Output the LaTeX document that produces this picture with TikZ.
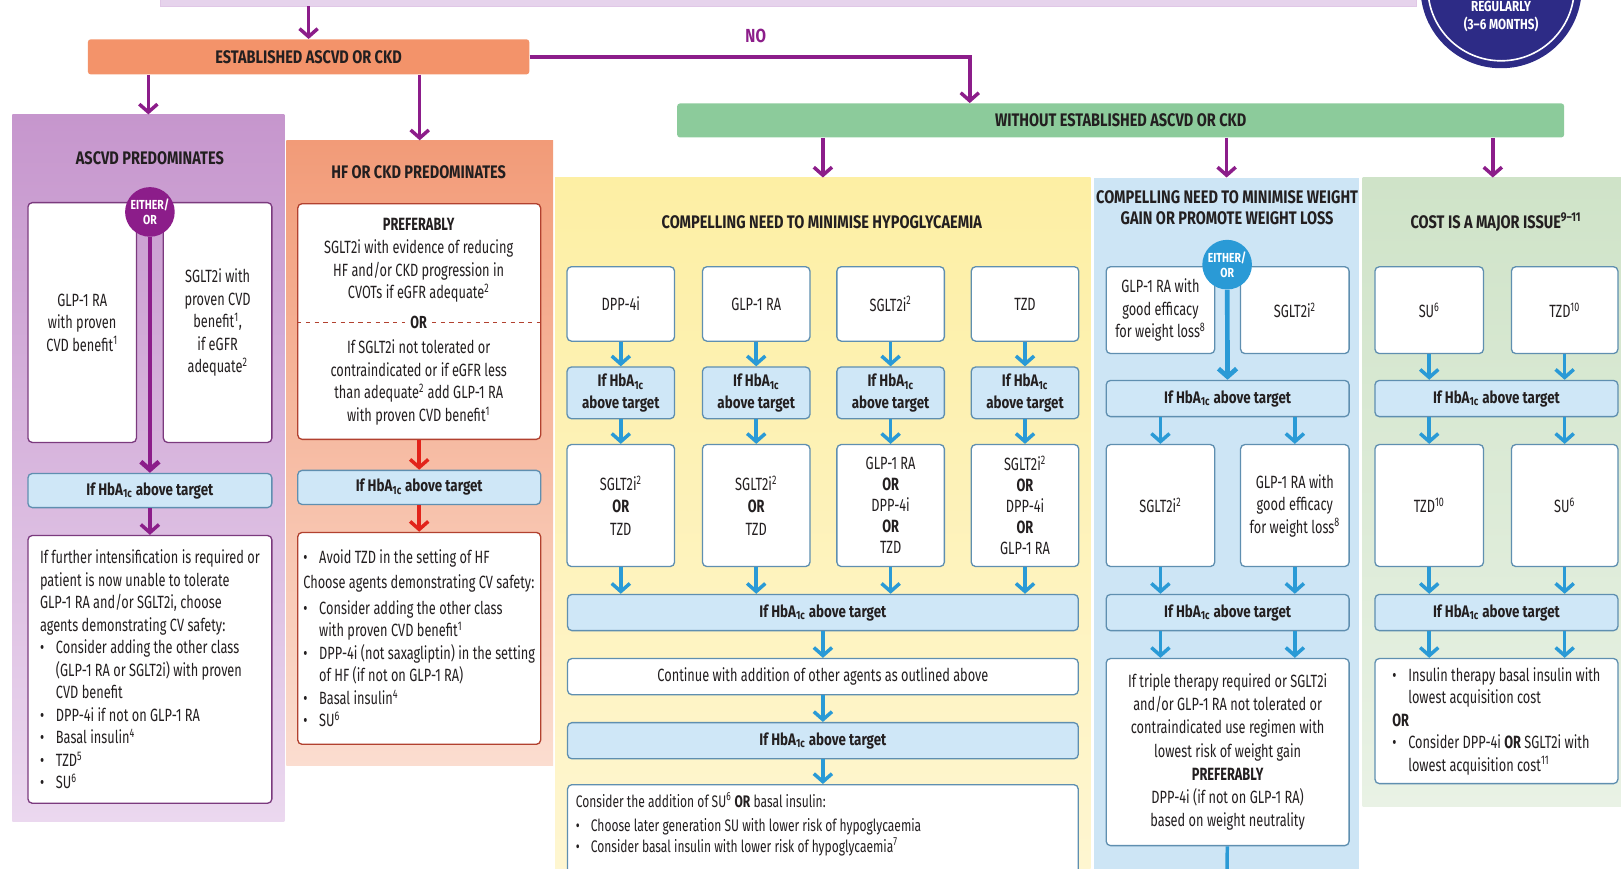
\documentclass[tikz,border=0pt]{standalone}
\usepackage{fontspec}
\setmainfont{Fira Sans}[FakeStretch=0.72]
\newfontfamily\headfont{Fira Sans}[FakeStretch=0.8]
\usetikzlibrary{arrows.meta,positioning,fit,calc}

\definecolor{arrowpurple}{HTML}{8C1D8A}
\definecolor{arrowblue}{HTML}{2A9AD6}
\definecolor{arrowred}{HTML}{E2231A}
\definecolor{barorange}{HTML}{F3936A}
\definecolor{bargreen}{HTML}{8CCB9B}
\definecolor{barlilac}{HTML}{E6D3EC}
\definecolor{ascvdtop}{HTML}{C696CD}
\definecolor{ascvdbot}{HTML}{EBD8EF}
\definecolor{hfpanetop}{HTML}{F29B78}
\definecolor{hfpanebot}{HTML}{FBDDD0}
\definecolor{hypotop}{HTML}{FDEFA4}
\definecolor{hypobot}{HTML}{FEF6D2}
\definecolor{weightblue}{HTML}{CDE5F5}
\definecolor{costtop}{HTML}{CFE3C8}
\definecolor{costbot}{HTML}{E9F2E5}
\definecolor{hbafill}{HTML}{CFE7F7}
\definecolor{boxedge}{HTML}{5F8FB0}
\definecolor{purpleedge}{HTML}{7B3A7E}
\definecolor{rededge}{HTML}{B2412F}
\definecolor{reviewnavy}{HTML}{2D2B86}
\definecolor{textdark}{HTML}{231F20}

\newcommand{\hba}{HbA\textsubscript{1c}}
\newcommand{\refmark}[1]{\textsuperscript{#1}}
\newcommand{\blt}{\makebox[0.9em][l]{\textbullet}}
\newcommand{\hng}{\hspace*{0.9em}}

\begin{document}
\begin{tikzpicture}[
  x=0.025cm, y=-0.025cm,
  font=\fontsize{12.2}{15.5}\selectfont, text=textdark,
  flow/.style={-{Straight Barb[length=5.5pt,width=12.5pt]}, line width=2.4pt},
  pflow/.style={flow, draw=arrowpurple},
  bflow/.style={flow, draw=arrowblue},
  rflow/.style={flow, draw=arrowred},
  panel/.style={inner sep=0pt, draw=none},
  boxsize/.style 2 args={minimum width=#1*0.025cm, minimum height=#2*0.025cm},
  heading/.style={font=\headfont\fontsize{12.5}{15}\selectfont\bfseries, align=center},
  whitebox/.style={draw=#1, fill=white, rounded corners=3pt, line width=0.9pt, inner sep=0pt, align=center},
  whitebox/.default=boxedge,
  hbabox/.style={draw=boxedge, fill=hbafill, rounded corners=3pt, line width=0.9pt, inner sep=0pt, align=center, font=\headfont\fontsize{11.5}{15}\selectfont\bfseries},
  eitheror/.style={circle, fill=#1, text=white, inner sep=0pt, minimum size=1.2cm, align=center, font=\headfont\fontsize{9}{10.5}\selectfont\bfseries}
]
\useasboundingbox (0,0) rectangle (1568,840);
\clip (0,0) rectangle (1568,840);

% panels
\node [panel, fit={(12,111) (275,795)}, top color=ascvdtop, bottom color=ascvdbot] (ascvd) {};
\node [panel, fit={(277,136) (535,740)}, top color=hfpanetop, bottom color=hfpanebot] (hf) {};
\node [panel, fit={(537,172) (1055,860)}, top color=hypotop, bottom color=hypobot] (hypo) {};
\node [panel, fit={(1058,172) (1315,860)}, fill=weightblue] (weight) {};
\node [panel, fit={(1318,172) (1570,780)}, top color=costtop, bottom color=costbot] (cost) {};

% top of the chart
\node [panel, fit={(155,-30) (1370,6)}, fill=barlilac, draw=barlilac!80!ascvdtop] (topbar) {};
\node [circle, fill=reviewnavy, minimum size=3.9cm, inner sep=0pt] (review) at (1452,-12) {};
\draw [white, line width=1.1pt] (review.center) circle [radius=1.77cm];
\node [text=white, align=center, font=\headfont\fontsize{10}{12.5}\selectfont\bfseries] (reviewtext) at (1452,16) {REGULARLY\\(3–6 MONTHS)};

\node [heading, boxsize={427}{34}, fill=barorange, rounded corners=2pt, inner sep=0pt] (estab) at (298.5,55) {ESTABLISHED ASCVD OR CKD};
\node [heading, boxsize={858}{33}, fill=bargreen, rounded corners=2pt, inner sep=0pt] (without) at (1084,116.5) {WITHOUT ESTABLISHED ASCVD OR CKD};
\node [text=arrowpurple, font=\headfont\fontsize{13}{15}\selectfont\bfseries] (nolabel) at (731,35) {NO};

% titles
\node [heading] (ascvdtitle) at (145,153) {ASCVD PREDOMINATES};
\node [heading] (hftitle) at (405,167) {HF OR CKD PREDOMINATES};
\node [heading] (hypotitle) at (795,215) {COMPELLING NEED TO MINIMISE HYPOGLYCAEMIA};
\node [heading] (weighttitle) at (1187,201) {COMPELLING NEED TO MINIMISE WEIGHT\\GAIN OR PROMOTE WEIGHT LOSS};
\node [heading] (costtitle) at (1447,215) {COST IS A MAJOR ISSUE\refmark{9–11}};

% ASCVD predominates
\node [whitebox=purpleedge, boxsize={105}{232}] (ascvdglp) at (79.5,312) {GLP-1 RA\\with proven\\CVD benefit\refmark{1}};
\node [whitebox=purpleedge, boxsize={105}{232}] (ascvdsglt) at (210.5,312) {SGLT2i with\\proven CVD\\benefit\refmark{1},\\if eGFR\\adequate\refmark{2}};
\node [eitheror=arrowpurple] (either1) at (145,205) {EITHER/\\OR};
\node [hbabox, boxsize={236}{33}] (ascvdhba) at (145,474.5) {If \hba{} above target};
\node [whitebox=purpleedge, boxsize={236}{259}, align=left] (ascvdnext) at (145,647.5) {If further intensification is required or\\
patient is now unable to tolerate\\
GLP-1 RA and/or SGLT2i, choose\\
agents demonstrating CV safety:\\
\blt Consider adding the other class\\
\hng (GLP-1 RA or SGLT2i) with proven\\
\hng CVD benefit\\
\blt DPP-4i if not on GLP-1 RA\\
\blt Basal insulin\refmark{4}\\
\blt TZD\refmark{5}\\
\blt SU\refmark{6}};

% HF or CKD predominates
\node [whitebox=rededge, boxsize={235}{228}] (hfpref) at (405.5,311) {};
\node [align=center] (hfsglt) at (405,252) {\textbf{PREFERABLY}\\SGLT2i with evidence of reducing\\HF and/or CKD progression in\\CVOTs if eGFR adequate\refmark{2}};
\node [font=\fontsize{12}{13}\selectfont\bfseries] (hfor) at (405,312) {OR};
\node [align=center] (hfglp) at (405,370) {If SGLT2i not tolerated or\\contraindicated or if eGFR less\\than adequate\refmark{2} add GLP-1 RA\\with proven CVD benefit\refmark{1}};
\node [hbabox, boxsize={235}{33}] (hfhba) at (405.5,471.5) {If \hba{} above target};
\node [whitebox=rededge, boxsize={235}{205}, align=left] (hfnext) at (405.5,617.5) {\blt Avoid TZD in the setting of HF\\[2pt]
Choose agents demonstrating CV safety:\\[2pt]
\blt Consider adding the other class\\
\hng with proven CVD benefit\refmark{1}\\
\blt DPP-4i (not saxagliptin) in the setting\\
\hng of HF (if not on GLP-1 RA)\\
\blt Basal insulin\refmark{4}\\
\blt SU\refmark{6}};

% minimise hypoglycaemia
\node [whitebox, boxsize={104}{72}] (hypodpp) at (600.5,294) {DPP-4i};
\node [whitebox, boxsize={104}{72}] (hypoglp) at (731.5,294) {GLP-1 RA};
\node [whitebox, boxsize={104}{72}] (hyposglt) at (861.5,294) {SGLT2i\refmark{2}};
\node [whitebox, boxsize={104}{72}] (hypotzd) at (991.5,294) {TZD};
\node [hbabox, boxsize={104}{50}] (hypohba1) at (600.5,380) {If \hba\\above target};
\node [hbabox, boxsize={104}{50}] (hypohba2) at (731.5,380) {If \hba\\above target};
\node [hbabox, boxsize={104}{50}] (hypohba3) at (861.5,380) {If \hba\\above target};
\node [hbabox, boxsize={104}{50}] (hypohba4) at (991.5,380) {If \hba\\above target};
\node [whitebox, boxsize={104}{118}] (hypoadd1) at (600.5,489) {SGLT2i\refmark{2}\\\textbf{OR}\\TZD};
\node [whitebox, boxsize={104}{118}] (hypoadd2) at (731.5,489) {SGLT2i\refmark{2}\\\textbf{OR}\\TZD};
\node [whitebox, boxsize={104}{118}, font=\fontsize{12.2}{14.5}\selectfont] (hypoadd3) at (861.5,489) {GLP-1 RA\\\textbf{OR}\\DPP-4i\\\textbf{OR}\\TZD};
\node [whitebox, boxsize={104}{118}, font=\fontsize{12.2}{14.5}\selectfont] (hypoadd4) at (991.5,489) {SGLT2i\refmark{2}\\\textbf{OR}\\DPP-4i\\\textbf{OR}\\GLP-1 RA};
\node [hbabox, boxsize={494}{35}] (hypohba5) at (796,592.5) {If \hba{} above target};
\node [whitebox, boxsize={494}{35}] (hypocont) at (796,654.5) {Continue with addition of other agents as outlined above};
\node [hbabox, boxsize={494}{35}] (hypohba6) at (796,716.5) {If \hba{} above target};
\node [whitebox, boxsize={494}{121}] (hypofinal) at (796,819.5) {};
\node [anchor=north west, align=left, font=\fontsize{11.5}{14}\selectfont] (hypofinaltext) at (552,762) {Consider the addition of SU\refmark{6} \textbf{OR} basal insulin:\\[3pt]
\blt Choose later generation SU with lower risk of hypoglycaemia\\
\blt Consider basal insulin with lower risk of hypoglycaemia\refmark{7}};

% minimise weight gain
\node [whitebox, boxsize={105}{84}] (weightglp) at (1122.5,300) {GLP-1 RA with\\good efficacy\\for weight loss\refmark{8}};
\node [whitebox, boxsize={105}{84}] (weightsglt) at (1252.5,300) {SGLT2i\refmark{2}};
\node [eitheror=arrowblue] (either2) at (1187,256) {EITHER/\\OR};
\node [hbabox, boxsize={235}{35}] (weighthba1) at (1187.5,385.5) {If \hba{} above target};
\node [whitebox, boxsize={105}{118}] (weightsglt2) at (1122.5,489) {SGLT2i\refmark{2}};
\node [whitebox, boxsize={105}{118}] (weightglp2) at (1252.5,489) {GLP-1 RA with\\good efficacy\\for weight loss\refmark{8}};
\node [hbabox, boxsize={235}{35}] (weighthba2) at (1187.5,592.5) {If \hba{} above target};
\node [whitebox, boxsize={235}{181}, font=\fontsize{12.2}{16}\selectfont] (weightfinal) at (1187.5,727.5) {If triple therapy required or SGLT2i\\and/or GLP-1 RA not tolerated or\\contraindicated use regimen with\\lowest risk of weight gain\\\textbf{PREFERABLY}\\DPP-4i (if not on GLP-1 RA)\\based on weight neutrality};
\coordinate (weightout) at (1187,852);

% cost is a major issue
\node [whitebox, boxsize={105}{84}] (costsu) at (1382.5,300) {SU\refmark{6}};
\node [whitebox, boxsize={103}{84}] (costtzd) at (1513.5,300) {TZD\refmark{10}};
\node [hbabox, boxsize={235}{35}] (costhba1) at (1447.5,385.5) {If \hba{} above target};
\node [whitebox, boxsize={105}{118}] (costtzd2) at (1382.5,489) {TZD\refmark{10}};
\node [whitebox, boxsize={103}{118}] (costsu2) at (1513.5,489) {SU\refmark{6}};
\node [hbabox, boxsize={235}{35}] (costhba2) at (1447.5,592.5) {If \hba{} above target};
\node [whitebox, boxsize={235}{121}, align=left] (costfinal) at (1447.5,697.5) {\blt Insulin therapy basal insulin with\\
\hng lowest acquisition cost\\
\textbf{OR}\\
\blt Consider DPP-4i \textbf{OR} SGLT2i with\\
\hng lowest acquisition cost\refmark{11}};

% connectors
\draw [pflow] (estab.north |- topbar.south) -- (estab.north);
\draw [pflow] (ascvd.north |- estab.south) -- (ascvd.north);
\draw [pflow] (hf.north |- estab.south) -- (hf.north);
\draw [pflow] (estab.east) -| ($(without.north west)!0.33!(without.north east)$);
\draw [pflow] (hypo.north |- without.south) -- (hypo.north);
\draw [pflow] (weight.north |- without.south) -- (weight.north);
\draw [pflow] (cost.north |- without.south) -- (cost.north);

\draw [pflow, line width=3.2pt] (either1) -- (ascvdhba);
\draw [pflow] (ascvdhba) -- (ascvdnext);

\draw [rededge, dashed, line width=0.9pt] (hfpref.west |- hfor) -- (hfor.west);
\draw [rededge, dashed, line width=0.9pt] (hfor.east) -- (hfpref.east |- hfor);
\draw [rflow] (hfpref) -- (hfhba);
\draw [rflow] (hfhba) -- (hfnext);

\draw [bflow] (hypodpp) -- (hypohba1);
\draw [bflow] (hypoglp) -- (hypohba2);
\draw [bflow] (hyposglt) -- (hypohba3);
\draw [bflow] (hypotzd) -- (hypohba4);
\draw [bflow] (hypohba1) -- (hypoadd1);
\draw [bflow] (hypohba2) -- (hypoadd2);
\draw [bflow] (hypohba3) -- (hypoadd3);
\draw [bflow] (hypohba4) -- (hypoadd4);
\draw [bflow] (hypoadd1.south) -- (hypoadd1.south |- hypohba5.north);
\draw [bflow] (hypoadd2.south) -- (hypoadd2.south |- hypohba5.north);
\draw [bflow] (hypoadd3.south) -- (hypoadd3.south |- hypohba5.north);
\draw [bflow] (hypoadd4.south) -- (hypoadd4.south |- hypohba5.north);
\draw [bflow] (hypohba5) -- (hypocont);
\draw [bflow] (hypocont) -- (hypohba6);
\draw [bflow] (hypohba6) -- (hypofinal);

\draw [bflow, line width=3.2pt] (either2) -- (weighthba1);
\draw [bflow] (weightsglt2.north |- weighthba1.south) -- (weightsglt2.north);
\draw [bflow] (weightglp2.north |- weighthba1.south) -- (weightglp2.north);
\draw [bflow] (weightsglt2.south) -- (weightsglt2.south |- weighthba2.north);
\draw [bflow] (weightglp2.south) -- (weightglp2.south |- weighthba2.north);
\draw [bflow] (weightsglt2.south |- weighthba2.south) -- (weightsglt2.south |- weightfinal.north);
\draw [bflow] (weightglp2.south |- weighthba2.south) -- (weightglp2.south |- weightfinal.north);
\draw [bflow] (weightfinal) -- (weightout);

\draw [bflow] (costsu.south) -- (costsu.south |- costhba1.north);
\draw [bflow] (costtzd.south) -- (costtzd.south |- costhba1.north);
\draw [bflow] (costtzd2.north |- costhba1.south) -- (costtzd2.north);
\draw [bflow] (costsu2.north |- costhba1.south) -- (costsu2.north);
\draw [bflow] (costtzd2.south) -- (costtzd2.south |- costhba2.north);
\draw [bflow] (costsu2.south) -- (costsu2.south |- costhba2.north);
\draw [bflow] (costtzd2.south |- costhba2.south) -- (costtzd2.south |- costfinal.north);
\draw [bflow] (costsu2.south |- costhba2.south) -- (costsu2.south |- costfinal.north);
\end{tikzpicture}
\end{document}
